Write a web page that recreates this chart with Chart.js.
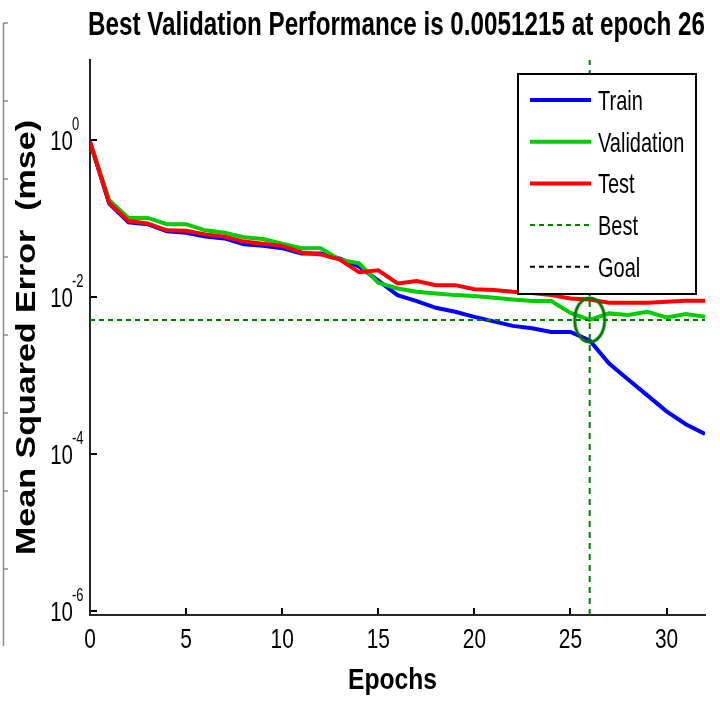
<!DOCTYPE html>
<html><head><meta charset="utf-8">
<script src="https://cdn.jsdelivr.net/npm/chart.js@4/dist/chart.umd.min.js"></script>
<style>html,body{margin:0;padding:0;background:#fff}canvas{display:block}</style>
</head><body>
<canvas id="c" width="720" height="702"></canvas>
<script>
// ---------------- data ----------------
const epochs = [0,1,2,3,4,5,6,7,8,9,10,11,12,13,14,15,16,17,18,19,20,21,22,23,24,25,26,27,28,29,30,31,32];
const trainMse = [0.95,0.155,0.090,0.085,0.069,0.066,0.059,0.056,0.047,0.045,0.042,0.036,0.036,0.031,0.0245,0.0162,0.0106,0.0089,0.0073,0.0065,0.0056,0.0049,0.0043,0.0040,0.0036,0.0036,0.0028,0.00143,0.00089,0.00056,0.00035,0.00024,0.00018];
const validationMse = [0.95,0.172,0.102,0.102,0.085,0.085,0.071,0.066,0.058,0.055,0.048,0.042,0.042,0.030,0.027,0.0152,0.0129,0.0117,0.0111,0.0106,0.0103,0.0098,0.0093,0.0089,0.0089,0.0063,0.0051215,0.0062,0.0059,0.0065,0.0055,0.0061,0.0056];
const testMse = [0.95,0.159,0.093,0.087,0.071,0.070,0.063,0.059,0.051,0.048,0.045,0.037,0.035,0.030,0.0207,0.022,0.0149,0.016,0.0142,0.0142,0.0126,0.0123,0.0117,0.0113,0.0106,0.0096,0.0093,0.0085,0.0085,0.0085,0.0087,0.0090,0.0090];
const bestEpoch = 26;
const bestValue = 0.0051215;
const xTickValues = [0,5,10,15,20,25,30];
const yTickExponents = [-6,-4,-2,0];
const xRange = [0, 32];
const yRange = [8.9e-7, 10.5];
const titleText = 'Best Validation Performance is 0.0051215 at epoch 26';
const xTitle = 'Epochs';
const yTitle = 'Mean Squared Error  (mse)';
const legendLabels = ['Train','Validation','Test','Best','Goal'];

// ---------------- styling helpers ----------------
const FAMILY = '"Liberation Sans",Arial,Helvetica,sans-serif';
const pts = arr => epochs.map((e, i) => ({x: e, y: arr[i]}));

// draw text with independent horizontal / vertical scaling (MATLAB export look)
function stretchText(c, text, x, y, o) {
  c.save();
  c.font = (o.bold ? 'bold ' : '') + o.size + 'px ' + FAMILY;
  let sx = o.sx || 1;
  if (o.width) sx = o.width / c.measureText(text).width;
  c.translate(x, y);
  if (o.rotate) c.rotate(o.rotate);
  c.scale(sx, o.sy || 1);
  c.fillStyle = '#000';
  c.textAlign = o.align || 'left';
  c.textBaseline = 'alphabetic';
  c.fillText(text, 0, 0);
  c.restore();
}

// ellipse marker for best point
const ell = document.createElement('canvas');
ell.width = 38; ell.height = 52;
(function(){ const ec = ell.getContext('2d'); ec.strokeStyle = '#007800'; ec.lineWidth = 3;
  ec.beginPath(); ec.ellipse(19, 26, 15, 22, 0, 0, Math.PI*2); ec.stroke(); })();

const leftFramePlugin = {
  id: 'leftFrame',
  beforeDraw(chart) {
    const c = chart.ctx; c.save();
    c.strokeStyle = '#8a8a8a'; c.lineWidth = 1.5;
    c.beginPath(); c.moveTo(3.5, 23); c.lineTo(3.5, 646); c.stroke();
    for (let y = 23; y < 640; y += 78.0) { c.beginPath(); c.moveTo(3.5, y); c.lineTo(8, y); c.stroke(); }
    c.restore();
  }
};

const textPlugin = {
  id: 'texts',
  afterDraw(chart) {
    const c = chart.ctx, a = chart.chartArea, xs = chart.scales.x, ys = chart.scales.y;
    // title
    stretchText(c, titleText, (a.left + a.right) / 2 - 1, 35, {size: 24, bold: true, width: 617, sy: 1.4, align: 'center'});
    // x title
    stretchText(c, xTitle, (a.left + a.right) / 2 - 5, 689, {size: 22, bold: true, width: 89, sy: 1.33, align: 'center'});
    // y title
    stretchText(c, yTitle, 35, (a.top + a.bottom) / 2, {size: 28, bold: true, width: 435, sy: 1, align: 'center', rotate: -Math.PI / 2});
    // x tick labels
    xTickValues.forEach(v => {
      stretchText(c, String(v), xs.getPixelForValue(v), a.bottom + 33, {size: 22, sx: 0.95, sy: 1.27, align: 'center'});
    });
    // y tick labels 10^e
    yTickExponents.forEach(e => {
      const y = ys.getPixelForValue(Math.pow(10, e));
      stretchText(c, '10', a.left - 17, y + 10, {size: 22, sx: 0.93, sy: 1.22, align: 'right'});
      stretchText(c, String(e), a.left - 18, y - 10, {size: 13, sx: 1, sy: 1.4, align: 'left'});
    });
  }
};

const legendPlugin = {
  id: 'boxLegend',
  afterDraw(chart) {
    const c = chart.ctx, a = chart.chartArea;
    const left = a.right - 187, top = a.top + 14, w = 178, h = 220;
    c.save();
    c.fillStyle = '#fff'; c.fillRect(left, top, w, h);
    c.strokeStyle = '#000'; c.lineWidth = 2; c.strokeRect(left, top, w, h);
    c.restore();
    legendLabels.forEach((lab, i) => {
      const ds = chart.data.datasets.find(d => d.label === lab);
      const y = top + 26 + i * 41.7;
      c.save();
      c.strokeStyle = ds.borderColor; c.lineWidth = ds.borderWidth;
      c.setLineDash(ds.borderDash || []);
      c.beginPath(); c.moveTo(left + 12, y); c.lineTo(left + 73, y); c.stroke();
      c.restore();
      stretchText(c, lab, left + 80, y + 10, {size: 20, sx: 1, sy: 1.4, align: 'left'});
    });
  }
};

new Chart(document.getElementById('c'), {
  type: 'line',
  data: {
    datasets: [
      {label: 'Train', data: pts(trainMse), borderColor: '#0000ff', borderWidth: 4, pointRadius: 0, order: 3},
      {label: 'Validation', data: pts(validationMse), borderColor: '#00cc00', borderWidth: 4, pointRadius: 0, order: 2},
      {label: 'Test', data: pts(testMse), borderColor: '#ff0000', borderWidth: 4, pointRadius: 0, order: 1},
      {label: 'Best', data: [{x: xRange[0], y: bestValue}, {x: xRange[1], y: bestValue}], borderColor: '#008000', borderWidth: 2, borderDash: [5, 4], pointRadius: 0, order: 0},
      {label: 'Best epoch', data: [{x: bestEpoch, y: yRange[0]}, {x: bestEpoch, y: yRange[1]}], borderColor: '#008000', borderWidth: 2, borderDash: [6, 5], pointRadius: 0, order: 0},
      {label: 'Best point', data: [{x: bestEpoch, y: bestValue}], showLine: false, pointStyle: ell, pointRadius: 20, borderColor: '#007800', order: 0},
      {label: 'Goal', data: [], borderColor: '#000', borderWidth: 2, borderDash: [5, 4], pointRadius: 0, order: 5}
    ]
  },
  options: {
    responsive: false, animation: false,
    layout: {autoPadding: false, padding: {left: 0, right: 15, top: 60, bottom: 0}},
    elements: {line: {tension: 0}},
    plugins: {legend: {display: false}, tooltip: {enabled: false}, title: {display: false}},
    scales: {
      x: {
        type: 'linear', min: xRange[0], max: xRange[1],
        afterFit: s => { s.height = 87; s.paddingLeft = 0; s.paddingRight = 0; },
        afterBuildTicks: s => { s.ticks = xTickValues.map(v => ({value: v})); },
        grid: {display: true, drawOnChartArea: false, drawTicks: true, tickLength: -7, color: '#000', lineWidth: 2},
        border: {display: true, color: '#262626', width: 2},
        ticks: {display: false},
        title: {display: false}
      },
      y: {
        type: 'logarithmic', min: yRange[0], max: yRange[1],
        afterFit: s => { s.width = 90; s.paddingTop = 0; s.paddingBottom = 0; },
        afterBuildTicks: s => { s.ticks = yTickExponents.map(e => ({value: Math.pow(10, e)})); },
        grid: {display: true, drawOnChartArea: false, drawTicks: true, tickLength: -7, color: '#000', lineWidth: 2},
        border: {display: true, color: '#262626', width: 2},
        ticks: {display: false},
        title: {display: false}
      }
    }
  },
  plugins: [leftFramePlugin, textPlugin, legendPlugin]
});
</script>
</body></html>
